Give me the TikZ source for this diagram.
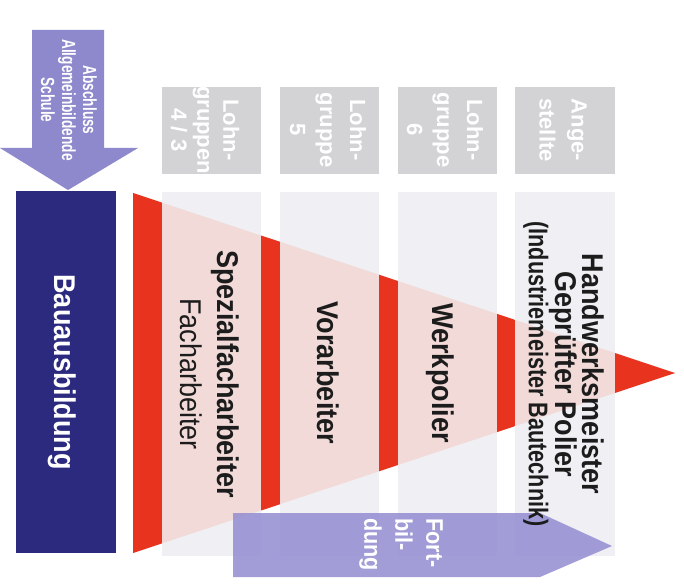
\documentclass[tikz,border=0pt]{standalone}
\usepackage{fontspec}
\setmainfont{Liberation Sans}
\newfontfamily\condA[FakeStretch=0.9]{Liberation Sans}
\newfontfamily\condB[FakeStretch=0.8]{Liberation Sans}
\newfontfamily\condC[FakeStretch=0.72]{Liberation Sans}
\definecolor{lav}{HTML}{8E88CC}
\definecolor{lavb}{HTML}{9690D2}
\definecolor{navy}{HTML}{2C2A7E}
\definecolor{hdr}{HTML}{D3D3D5}
\definecolor{colbg}{HTML}{EFEFF4}
\definecolor{pinkfill}{HTML}{F1DAD8}
\definecolor{redband}{HTML}{E8341F}
\definecolor{ink}{HTML}{1C1C1C}
\tikzset{
  vtext/.style={rotate=-90, inner sep=0pt, align=center},
  lbl/.style={vtext, text=ink, font=\fontsize{30}{37}\selectfont\condA},
  hdrtxt/.style={vtext, text=white, font=\fontsize{22}{30}\selectfont\bfseries},
  arrtxt/.style={vtext, text=white},
}
\begin{document}
\begin{tikzpicture}[x=1pt,y=-1pt]
\useasboundingbox (0,0) rectangle (684,585);
\fill[white] (0,0) rectangle (684,585);

% light column backgrounds below the wage-group headers
\foreach \a/\b in {162/261,280/379,398/497,515/615}
  \fill[colbg] (\a,192) rectangle (\b,556);

% career pyramid lying on its side
\fill[pinkfill] (133,193) -- (675,373) -- (133,553) -- cycle;
\begin{scope}
  \clip (133,193) -- (675,373) -- (133,553) -- cycle;
  \foreach \a/\b in {133/162,261/280,379/398,497/515,615/690}
    \fill[redband] (\a,150) rectangle (\b,600);
\end{scope}

% wage-group headers
\foreach \a/\b in {162/261,280/379,398/497,515/615}
  \fill[hdr] (\a,87) rectangle (\b,174);
\node[hdrtxt, font=\fontsize{22}{26}\selectfont\bfseries] (lg43) at (205,130) {Lohn-\\gruppen\\4 / 3};
\node[hdrtxt] (lg5) at (328,130) {Lohn-\\gruppe\\5};
\node[hdrtxt] (lg6) at (445,130) {Lohn-\\gruppe\\6};
\node[hdrtxt, font=\fontsize{22}{32}\selectfont\bfseries] (ang) at (563,130) {Ange-\\stellte};

% school-leaving arrow
\fill[lav] (32,30) -- (104,30) -- (104,148) -- (138,148) -- (68,190) -- (0,148) -- (32,148) -- cycle;
\node[arrtxt, font=\fontsize{19}{21}\selectfont\condC\bfseries] (schule) at (69,100)
  {Abschluss\\Allgemeinbildende\\Schule};

% vocational training block
\fill[navy] (16,191) rectangle (116,553);
\node[vtext, text=white, font=\fontsize{30}{36}\selectfont\condA\bfseries] (bau) at (62,372) {Bauausbildung};

% further-training arrow
\fill[lavb, opacity=.88] (233,513) -- (540,513) -- (612,546) -- (540,577) -- (233,577) -- cycle;
\node[arrtxt, align=left, anchor=north west, font=\fontsize{24}{31}\selectfont\condA\bfseries] (fort) at (443,518)
  {Fort-\\bil-\\dung};

% career levels
\node[lbl] (spez) at (210,374) {\bfseries Spezialfacharbeiter\\Facharbeiter};
\node[lbl, font=\fontsize{30}{37}\selectfont\condA\bfseries] (vor) at (328,373) {Vorarbeiter};
\node[lbl, font=\fontsize{30}{37}\selectfont\condA\bfseries] (werk) at (440,373) {Werkpolier};
\node[lbl, font=\fontsize{30}{27}\selectfont\condA\bfseries] (meister) at (564,374)
  {Handwerksmeister\\Geprüfter Polier\\{\fontsize{27}{27}\selectfont\condB\bfseries(Industriemeister Bautechnik)}};
\end{tikzpicture}
\end{document}
